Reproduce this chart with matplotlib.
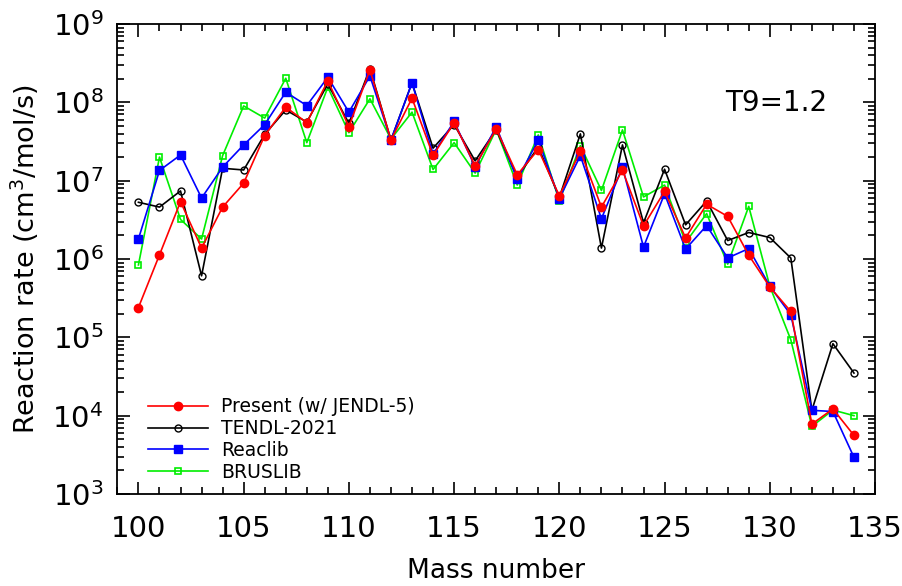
import matplotlib
matplotlib.use("Agg")
import matplotlib.pyplot as plt
import numpy as np
from matplotlib.ticker import MultipleLocator, LogLocator

mass = np.arange(100, 135)

# (n,gamma)-type reaction rates at T9 = 1.2, cm^3/mol/s
present = [2.4e5, 1.13e6, 5.4e6, 1.38e6, 4.6e6, 9.3e6, 3.77e7, 8.7e7, 5.5e7, 1.89e8,
           4.9e7, 2.6e8, 3.3e7, 1.13e8, 2.1e7, 5.5e7, 1.55e7, 4.6e7, 1.19e7, 2.5e7,
           6.4e6, 2.4e7, 4.6e6, 1.36e7, 2.65e6, 7.3e6, 1.86e6, 5.0e6, 3.5e6, 1.12e6,
           4.4e5, 2.14e5, 7.8e3, 1.22e4, 5.6e3]
tendl = [5.3e6, 4.6e6, 7.4e6, 6.1e5, 1.44e7, 1.37e7, 3.9e7, 8.0e7, 5.6e7, 1.72e8,
         5.4e7, 2.7e8, 3.3e7, 1.78e8, 2.6e7, 5.2e7, 1.79e7, 4.5e7, 1.1e7, 2.7e7,
         6.1e6, 3.96e7, 1.38e6, 2.86e7, 2.9e6, 1.4e7, 2.73e6, 5.5e6, 1.72e6, 2.18e6,
         1.88e6, 1.03e6, 1.17e4, 8.3e4, 3.5e4]
reaclib = [1.8e6, 1.35e7, 2.13e7, 6.0e6, 1.49e7, 2.86e7, 5.2e7, 1.35e8, 9.1e7, 2.09e8,
           7.5e7, 2.17e8, 3.3e7, 1.78e8, 2.18e7, 5.7e7, 1.5e7, 4.9e7, 1.04e7, 3.3e7,
           5.9e6, 2.09e7, 3.26e6, 1.49e7, 1.42e6, 6.8e6, 1.34e6, 2.67e6, 1.03e6, 1.36e6,
           4.5e5, 1.94e5, 1.17e4, 1.13e4, 2.94e3]
bruslib = [8.4e5, 2.0e7, 3.2e6, 1.8e6, 2.09e7, 9.0e7, 6.3e7, 2.03e8, 3.06e7, 1.56e8,
           4.1e7, 1.11e8, 3.4e7, 7.5e7, 1.39e7, 3.06e7, 1.25e7, 4.5e7, 8.8e6, 3.84e7,
           5.5e6, 2.8e7, 7.5e6, 4.45e7, 6.2e6, 8.8e6, 1.63e6, 3.8e6, 8.6e5, 4.7e6,
           4.5e5, 9.3e4, 7.3e3, 1.18e4, 1.0e4]

fig = plt.figure(figsize=(9.03, 5.86), dpi=100)
ax = fig.add_axes([0.130, 0.157, 0.839, 0.802])

ax.plot(mass, present, color="#ff0000", lw=1.2, marker="o", ms=6,
        label="Present (w/ JENDL-5)", zorder=5)
ax.plot(mass, tendl, color="black", lw=1.2, marker="o", ms=5, mfc="none",
        mew=1.0, label="TENDL-2021", zorder=3)
ax.plot(mass, reaclib, color="#0000ff", lw=1.2, marker="s", ms=6,
        label="Reaclib", zorder=4)
ax.plot(mass, bruslib, color="#00ee00", lw=1.2, marker="s", ms=5, mfc="none",
        mew=1.2, label="BRUSLIB", zorder=2)

ax.set_yscale("log")
ax.set_xlim(99, 135)
ax.set_ylim(1e3, 1e9)
ax.xaxis.set_major_locator(MultipleLocator(5))
ax.xaxis.set_minor_locator(MultipleLocator(1))
ax.yaxis.set_major_locator(LogLocator(base=10, numticks=10))
ax.yaxis.set_minor_locator(LogLocator(base=10, subs=np.arange(2, 10), numticks=20))

ax.tick_params(which="both", direction="in", top=True, right=True, width=1.2,
               labelsize=21)
ax.tick_params(axis="x", which="major", pad=15)
ax.tick_params(axis="y", which="major", pad=10)
ax.tick_params(which="major", length=9)
ax.tick_params(which="minor", length=5)
for s in ax.spines.values():
    s.set_linewidth(1.3)

ax.set_xlabel("Mass number", fontsize=19, labelpad=11)
ax.set_ylabel("Reaction rate (cm$^3$/mol/s)", fontsize=19.5, labelpad=8)

ax.text(0.869, 0.832, "T9=1.2", transform=ax.transAxes, fontsize=20,
        ha="center", va="center")

ax.legend(loc="lower left", frameon=False, fontsize=13.5, handlelength=3.2,
          handletextpad=0.7, borderaxespad=0, borderpad=0, labelspacing=0.15,
          bbox_to_anchor=(0.040, 0.026))

fig.savefig("out.png", dpi=100)
